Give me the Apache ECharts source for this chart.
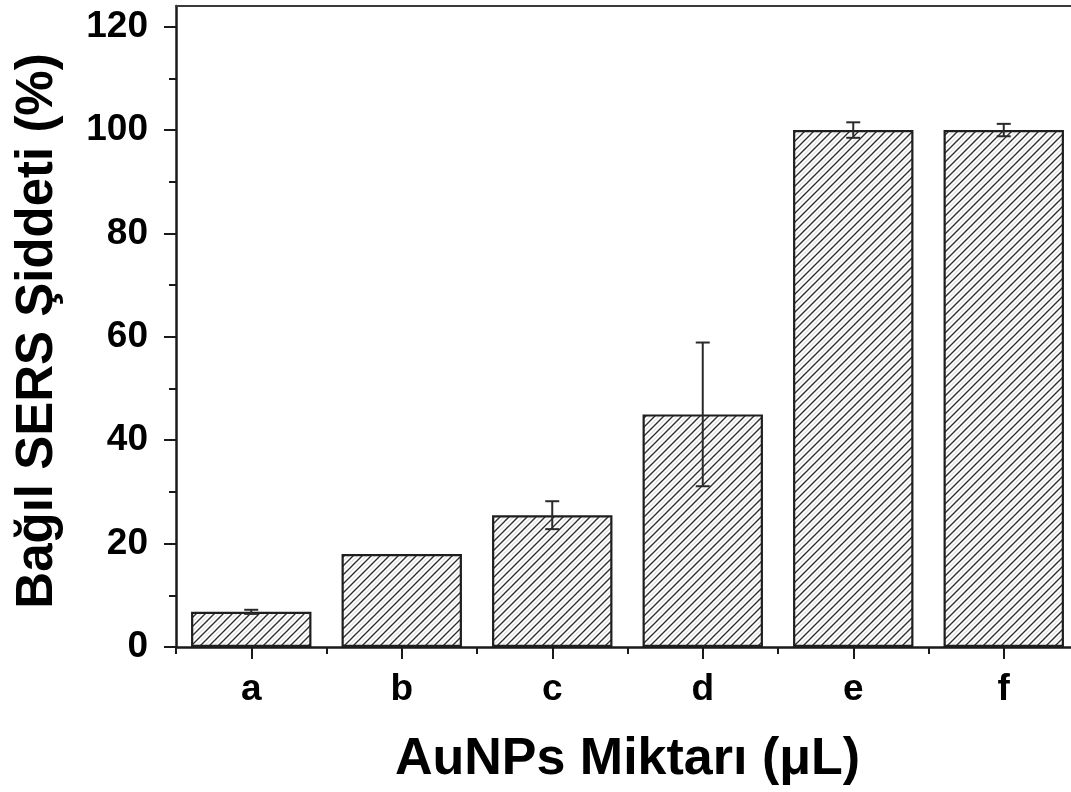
<!DOCTYPE html>
<html>
<head>
<meta charset="utf-8">
<script src="https://cdn.jsdelivr.net/npm/echarts@6/dist/echarts.min.js"></script>
<style>
html,body{margin:0;padding:0;background:#fff;overflow:hidden;}
#chart{width:1071px;height:792px;}
</style>
</head>
<body>
<div id="chart"></div>
<script>
const categories = ['a', 'b', 'c', 'd', 'e', 'f'];
const values = [6.8, 18.0, 25.5, 45.0, 100.0, 100.0];
const errors = [0.4, 0, 2.7, 13.9, 1.5, 1.2];
const yTickValues = [0, 20, 40, 60, 80, 100, 120];
const xTitle = 'AuNPs Miktarı (μL)';
const yTitle = 'Bağıl SERS Şiddeti (%)';

function makeHatch() {
  const s = 9;
  const c = document.createElement('canvas');
  c.width = s; c.height = s;
  const g = c.getContext('2d');
  g.fillStyle = '#ffffff';
  g.fillRect(0, 0, s, s);
  g.strokeStyle = '#d0d0d0';
  g.lineWidth = 1;
  g.beginPath();
  g.moveTo(-1, s / 2 + 1); g.lineTo(s / 2 + 1, -1);
  g.moveTo(s / 2 - 1, s + 1); g.lineTo(s + 1, s / 2 - 1);
  g.stroke();
  g.strokeStyle = '#2e2e2e';
  g.lineWidth = 1.4;
  g.beginPath();
  g.moveTo(-1, s + 1); g.lineTo(s + 1, -1);
  g.moveTo(-2, 2); g.lineTo(2, -2);
  g.moveTo(s - 2, s + 2); g.lineTo(s + 2, s - 2);
  g.stroke();
  return c;
}

const chart = echarts.init(document.getElementById('chart'), null, {renderer: 'canvas'});
const FONT = '"Liberation Sans", Arial, Helvetica, sans-serif';

const option = {
  backgroundColor: '#ffffff',
  animation: false,
  grid: {left: 176, top: 6, width: 903, height: 641, containLabel: false, outerBoundsMode: 'none'},
  xAxis: [
    {
      type: 'category',
      data: categories,
      position: 'bottom',
      axisLine: {show: true, lineStyle: {color: '#1a1a1a', width: 2.5}},
      axisTick: {show: true, alignWithLabel: true, inside: false, length: 12, lineStyle: {color: '#1a1a1a', width: 2}},
      axisLabel: {show: true, margin: 24, color: '#000', fontSize: 37, fontWeight: 'bold', fontFamily: FONT},
      splitLine: {show: false},
      name: xTitle,
      nameLocation: 'middle',
      nameGap: 87,
      nameTextStyle: {color: '#000', fontSize: 52, fontWeight: 'bold', fontFamily: FONT}
    },
    {
      type: 'category',
      data: categories,
      position: 'bottom',
      axisLine: {show: false},
      axisTick: {show: true, alignWithLabel: false, length: 7, lineStyle: {color: '#1a1a1a', width: 2}},
      axisLabel: {show: false},
      splitLine: {show: false}
    },
    {
      type: 'category',
      data: categories,
      position: 'top',
      axisLine: {show: true, lineStyle: {color: '#3a3a3a', width: 2}},
      axisTick: {show: false},
      axisLabel: {show: false},
      splitLine: {show: false}
    }
  ],
  yAxis: {
    type: 'value',
    min: 0,
    max: 124,
    interval: 20,
    axisLine: {show: true, lineStyle: {color: '#1a1a1a', width: 2.5}},
    axisTick: {show: true, inside: false, length: 12, lineStyle: {color: '#1a1a1a', width: 2}, customValues: yTickValues},
    minorTick: {show: true, splitNumber: 2, length: 7, lineStyle: {color: '#1a1a1a', width: 2}},
    axisLabel: {show: true, margin: 28, color: '#000', fontSize: 37, fontWeight: 'bold', fontFamily: FONT, customValues: yTickValues},
    splitLine: {show: false},
    name: yTitle,
    nameLocation: 'middle',
    nameGap: 113,
    nameRotate: 90,
    nameTextStyle: {color: '#000', fontSize: 51, fontWeight: 'bold', fontFamily: FONT, padding: [0, 9, 0, 0]}
  },
  series: [
    {
      type: 'bar',
      xAxisIndex: 0,
      data: values,
      barWidth: '80%',
      itemStyle: {
        color: {image: makeHatch(), repeat: 'repeat'},
        borderColor: '#1e1e1e',
        borderWidth: 2.2
      },
      z: 2
    },
    {
      type: 'custom',
      xAxisIndex: 0,
      data: values.map((v, i) => [i, v, errors[i]]),
      renderItem: function (params, api) {
        const x = api.value(0);
        const v = api.value(1);
        const e = api.value(2);
        if (!e) { return {type: 'group', children: []}; }
        const top = api.coord([x, v + e]);
        const bot = api.coord([x, v - e]);
        const hw = 7;
        const style = {stroke: '#2a2a2a', lineWidth: 2};
        return {
          type: 'group',
          children: [
            {type: 'line', shape: {x1: top[0], y1: top[1], x2: bot[0], y2: bot[1]}, style: style},
            {type: 'line', shape: {x1: top[0] - hw, y1: top[1], x2: top[0] + hw, y2: top[1]}, style: style},
            {type: 'line', shape: {x1: bot[0] - hw, y1: bot[1], x2: bot[0] + hw, y2: bot[1]}, style: style}
          ]
        };
      },
      z: 5
    }
  ]
};
chart.setOption(option);
</script>
</body>
</html>
